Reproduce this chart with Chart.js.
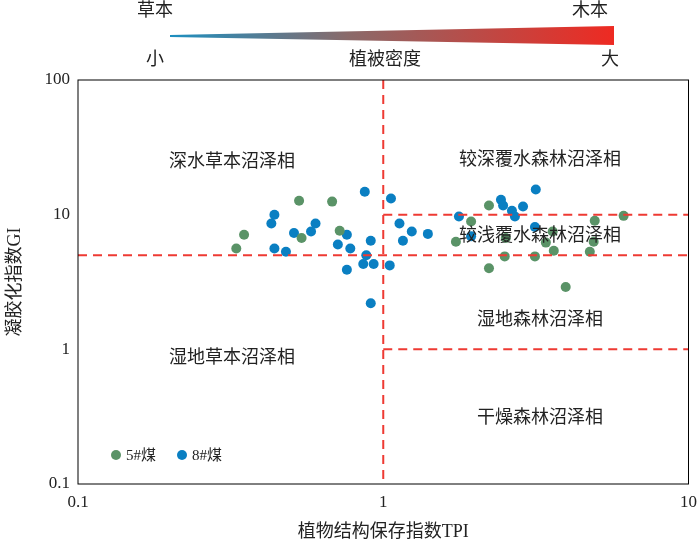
<!DOCTYPE html>
<html>
<head>
<meta charset="utf-8">
<script src="https://cdn.jsdelivr.net/npm/chart.js@4"></script>
<style>
  body { margin: 0; background: #fff; }
  #wrap { width: 700px; height: 551px; }
</style>
</head>
<body>
<div id="wrap"><canvas id="c"></canvas></div>
<script>
// ==========================
// DATA
// ==========================
const coal5TPI = [0.33, 0.35, 0.53, 0.54, 0.68, 0.72, 2.22, 1.94, 1.73, 2.52, 2.50, 2.22, 3.14, 3.41, 3.59, 3.62, 4.93, 4.89, 4.75, 6.13, 3.96];
const coal5GI  = [5.6, 7.1, 12.7, 6.7, 12.5, 7.6, 11.7, 8.9, 6.3, 6.7, 4.9, 4.0, 4.9, 6.2, 7.5, 5.4, 9.0, 6.3, 5.3, 9.8, 2.9];
const coal8TPI = [0.44, 0.43, 0.44, 0.48, 0.51, 0.58, 0.60, 0.71, 0.76, 0.78, 0.87, 0.91, 0.88, 0.86, 0.93, 0.76, 0.91, 1.06, 1.05, 1.13, 1.16, 1.24, 1.40, 1.77, 2.43, 2.47, 2.64, 2.70, 2.87, 3.16, 3.14, 1.94];
const coal8GI  = [10.0, 8.6, 5.6, 5.3, 7.3, 7.5, 8.6, 6.0, 7.1, 5.6, 14.8, 6.4, 5.0, 4.3, 4.3, 3.9, 2.2, 13.2, 4.2, 8.6, 6.4, 7.5, 7.2, 9.7, 12.9, 11.7, 10.7, 9.7, 11.5, 15.4, 8.1, 6.9];
const tickLabels = [0.1, 1, 10, 100];

const FONT = "'Liberation Serif', 'Noto Sans CJK SC', serif";
const toPts = (xs, ys) => xs.map((x, i) => ({ x, y: ys[i] }));
const minor = [];
for (let d = 0.1; d < 100; d *= 10) for (let k = 1; k < 10; k++) minor.push(+(d * k).toPrecision(3));
minor.push(100);

// ==========================
// DECORATION PLUGIN
// ==========================
const deco = {
  id: "deco",
  afterDraw(chart) {
    const { ctx, chartArea: a, scales: { x, y } } = chart;
    ctx.save();
    // dashed zone lines
    ctx.strokeStyle = "#ee3a33";
    ctx.lineWidth = 2;
    ctx.setLineDash([9, 6]);
    const seg = (x1, y1, x2, y2) => { ctx.beginPath(); ctx.moveTo(x1, y1); ctx.lineTo(x2, y2); ctx.stroke(); };
    seg(x.getPixelForValue(1), a.top, x.getPixelForValue(1), a.bottom);
    seg(a.left, y.getPixelForValue(5), a.right, y.getPixelForValue(5));
    seg(x.getPixelForValue(1), y.getPixelForValue(10), a.right, y.getPixelForValue(10));
    seg(x.getPixelForValue(1), y.getPixelForValue(1), a.right, y.getPixelForValue(1));
    ctx.setLineDash([]);
    // frame
    ctx.strokeStyle = "#000";
    ctx.lineWidth = 1;
    ctx.strokeRect(a.left, a.top, a.right - a.left, a.bottom - a.top);
    // zone labels
    ctx.fillStyle = "#222";
    ctx.font = "18px " + FONT;
    ctx.textAlign = "center";
    ctx.textBaseline = "middle";
    ctx.fillText("深水草本沼泽相", 232, 162);
    ctx.fillText("较深覆水森林沼泽相", 540, 160);
    ctx.fillText("较浅覆水森林沼泽相", 540, 236);
    ctx.fillText("湿地森林沼泽相", 540, 320);
    ctx.fillText("湿地草本沼泽相", 232, 358);
    ctx.fillText("干燥森林沼泽相", 540, 418);
    // legend
    ctx.font = "15px " + FONT;
    ctx.textAlign = "left";
    ctx.fillStyle = "#5a9367";
    ctx.beginPath(); ctx.arc(116, 455, 5, 0, Math.PI * 2); ctx.fill();
    ctx.fillStyle = "#0a7fc2";
    ctx.beginPath(); ctx.arc(182, 455, 5, 0, Math.PI * 2); ctx.fill();
    ctx.fillStyle = "#222";
    ctx.fillText("5#煤", 126, 456);
    ctx.fillText("8#煤", 192, 456);
    // top density wedge
    const g = ctx.createLinearGradient(170, 0, 614, 0);
    g.addColorStop(0, "#1c8fc0");
    g.addColorStop(0.4, "#8a6a6a");
    g.addColorStop(1, "#ee2a22");
    ctx.fillStyle = g;
    ctx.beginPath();
    ctx.moveTo(170, 35); ctx.lineTo(614, 26); ctx.lineTo(614, 45); ctx.lineTo(170, 37);
    ctx.closePath(); ctx.fill();
    ctx.fillStyle = "#222";
    ctx.font = "18px " + FONT;
    ctx.textAlign = "center";
    ctx.fillText("草本", 155, 11);
    ctx.fillText("木本", 590, 11);
    ctx.fillText("小", 155, 60);
    ctx.fillText("植被密度", 385, 60);
    ctx.fillText("大", 610, 60);
    ctx.restore();
  }
};

// ==========================
// CHART
// ==========================
new Chart(document.getElementById("c"), {
  type: "scatter",
  data: {
    datasets: [
      { label: "5#煤", data: toPts(coal5TPI, coal5GI), backgroundColor: "#5a9367", borderWidth: 0, pointRadius: 5 },
      { label: "8#煤", data: toPts(coal8TPI, coal8GI), backgroundColor: "#0a7fc2", borderWidth: 0, pointRadius: 5 }
    ]
  },
  options: {
    responsive: true,
    maintainAspectRatio: false,
    animation: false,
    layout: { padding: { top: 80, right: 8, bottom: 4 } },
    plugins: { legend: { display: false }, tooltip: { enabled: false } },
    scales: {
      x: {
        type: "logarithmic", min: 0.1, max: 10,
        afterBuildTicks: s => { s.ticks = minor.filter(v => v <= 10).map(v => ({ value: v })); },
        afterFit: s => { s.height = 63; },
        grid: { display: false, drawTicks: true, tickLength: 5, color: "#000" },
        border: { display: false },
        ticks: {
          autoSkip: false, maxRotation: 0, color: "#222", font: { family: FONT, size: 17 },
          callback: v => tickLabels.includes(+v.toPrecision(3)) ? String(v) : ""
        },
        title: { display: true, text: "植物结构保存指数TPI", color: "#222", font: { family: FONT, size: 18 } }
      },
      y: {
        type: "logarithmic", min: 0.1, max: 100,
        afterBuildTicks: s => { s.ticks = minor.map(v => ({ value: v })); },
        afterFit: s => { s.width = 78; },
        grid: { display: false, drawTicks: true, tickLength: 5, color: "#000" },
        border: { display: false },
        ticks: {
          autoSkip: false, color: "#222", font: { family: FONT, size: 17 },
          callback: v => tickLabels.includes(+v.toPrecision(3)) ? String(v) : ""
        },
        title: { display: true, text: "凝胶化指数GI", color: "#222", font: { family: FONT, size: 18 } }
      }
    }
  },
  plugins: [deco]
});
</script>
</body>
</html>
